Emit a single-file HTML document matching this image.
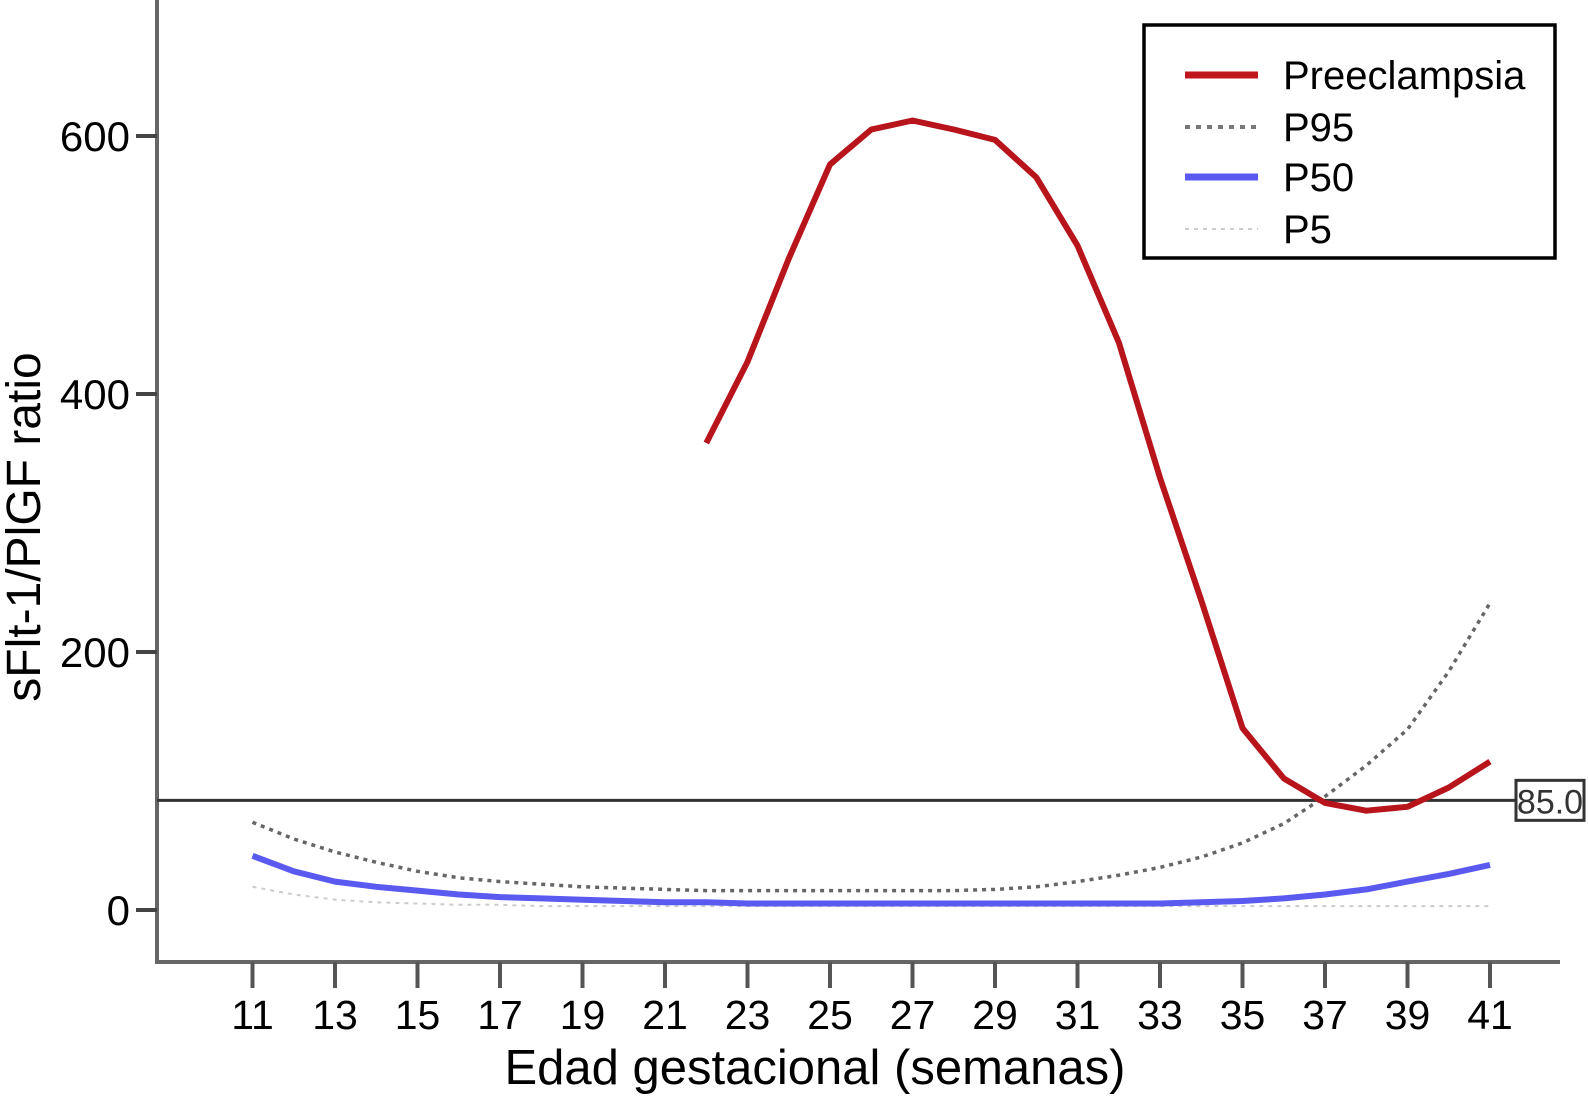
<!DOCTYPE html>
<html><head><meta charset="utf-8"><style>
html,body{margin:0;padding:0;background:#fff;}
svg{display:block;font-family:"Liberation Sans",Arial,sans-serif;}
</style></head><body>
<svg id="chart" width="1588" height="1100" viewBox="0 0 1588 1100">
<g id="axes"></g><g id="series"></g><g id="legend"></g>
</svg>
<script>
const weeks=[11,12,13,14,15,16,17,18,19,20,21,22,23,24,25,26,27,28,29,30,31,32,33,34,35,36,37,38,39,40,41];
const preWeeks=[22,23,24,25,26,27,28,29,30,31,32,33,34,35,36,37,38,39,40,41];
const preValues=[362,425,505,578,605,612,605,597,568,515,440,335,240,141,102,83,77,80,95,115];
const p95Values=[68,55,45,37,30,25,22,20,18,17,16,15,15,15,15,15,15,15,16,18,22,27,33,41,52,67,88,112,140,185,238];
const p50Values=[42,30,22,18,15,12,10,9,8,7,6,6,5,5,5,5,5,5,5,5,5,5,5,6,7,9,12,16,22,28,35];
const p5Values=[18,12,8,6,5,4,4,3,3,3,3,3,3,3,3,3,3,3,3,3,3,3,3,3,3,3,3,3,3,3,3];
const yTicks=[0,200,400,600];
const xTicks=[11,13,15,17,19,21,23,25,27,29,31,33,35,37,39,41];
const threshold=85;
const NS='http://www.w3.org/2000/svg';
const xS=w=>252.5+(w-11)*41.25;
const yS=v=>910-v*1.29;
function mk(tag,attrs,parent,text){const e=document.createElementNS(NS,tag);for(const k in attrs)e.setAttribute(k,attrs[k]);if(text!=null)e.textContent=text;parent.appendChild(e);return e;}
const axes=document.getElementById('axes'),series=document.getElementById('series'),legend=document.getElementById('legend');
let e=mk('line',{x1:157,y1:0,x2:157,y2:962,stroke:'#666','stroke-width':4},axes);

e=mk('line',{x1:155,y1:962,x2:1560,y2:962,stroke:'#666','stroke-width':4},axes);

yTicks.forEach(v=>{
 let t=mk('line',{x1:136,y1:yS(v),x2:157,y2:yS(v),stroke:'#444','stroke-width':4},axes);
 
 let l=mk('text',{x:130,y:yS(v)+15,'text-anchor':'end','font-size':42,fill:'#000'},axes,String(v));
 
});
xTicks.forEach(w=>{
 let t=mk('line',{x1:xS(w),y1:962,x2:xS(w),y2:988,stroke:'#555','stroke-width':4},axes);
 
 let l=mk('text',{x:xS(w),y:1029,'text-anchor':'middle','font-size':41,fill:'#000'},axes,String(w));
 
});
e=mk('text',{x:815,y:1084,'text-anchor':'middle','font-size':49,fill:'#000'},axes,'Edad gestacional (semanas)');

e=mk('text',{x:0,y:0,'text-anchor':'middle','font-size':48,fill:'#000',transform:'translate(40,527) rotate(-90)'},axes,'sFlt-1/PlGF ratio');

e=mk('line',{x1:157,y1:yS(threshold),x2:1515,y2:yS(threshold),stroke:'#333','stroke-width':3},series);

e=mk('rect',{x:1516,y:yS(threshold)-20,width:68,height:40,fill:'#fff',stroke:'#333','stroke-width':3},series);

e=mk('text',{x:1550,y:yS(threshold)+13,'text-anchor':'middle','font-size':34,fill:'#333'},series,'85.0');

function pts(xs,vs){return xs.map((w,i)=>xS(w).toFixed(1)+','+yS(vs[i]).toFixed(1)).join(' ');}
e=mk('polyline',{points:pts(weeks,p5Values),fill:'none',stroke:'#ccc','stroke-width':2,'stroke-dasharray':'4 5'},series);

e=mk('polyline',{points:pts(weeks,p95Values),fill:'none',stroke:'#666','stroke-width':3.5,'stroke-dasharray':'4 5'},series);

e=mk('polyline',{points:pts(weeks,p50Values),fill:'none',stroke:'#5a5af0','stroke-width':6,'stroke-linejoin':'round'},series);

e=mk('polyline',{points:pts(preWeeks,preValues),fill:'none',stroke:'#b8141c','stroke-width':6,'stroke-linejoin':'round'},series);

e=mk('rect',{x:1144,y:25,width:411,height:233,fill:'#fff',stroke:'#000','stroke-width':3.5},legend);

const legNames=['Preeclampsia','P95','P50','P5'];
const legY=[75,127,177,229];
const legStyle=[{stroke:'#c0161e','stroke-width':7},{stroke:'#777','stroke-width':4,'stroke-dasharray':'5 6'},{stroke:'#5a5af0','stroke-width':7},{stroke:'#ccc','stroke-width':2,'stroke-dasharray':'4 5'}];
legNames.forEach((n,i)=>{
 const a=Object.assign({x1:1185,y1:legY[i],x2:1258,y2:legY[i]},legStyle[i]);
 let l=mk('line',a,legend);
 
 let t=mk('text',{x:1283,y:legY[i]+14,'font-size':40,fill:'#000'},legend,n);
 
});
</script>
</body></html>
